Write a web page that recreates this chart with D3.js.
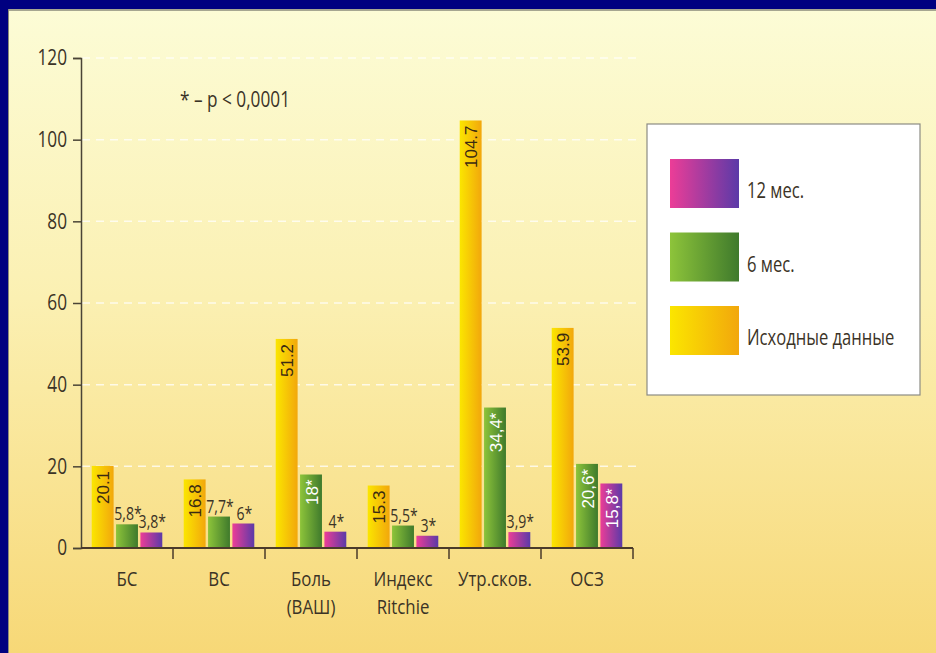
<!DOCTYPE html>
<html>
<head>
<meta charset="utf-8">
<script src="https://cdn.jsdelivr.net/npm/d3@7"></script>
<style>
  html, body { margin: 0; padding: 0; background: #000080; }
  svg { display: block; }
</style>
</head>
<body>
<svg id="chart" width="936" height="653"></svg>
<script>
// Categories along the x axis (multi-line labels split by "\n")
const categories = ["БС", "ВС", "Боль\n(ВАШ)", "Индекс\nRitchie", "Утр.сков.", "ОСЗ"];

// Series values (baseline, 6 months, 12 months)
const baseValues = [20.1, 16.8, 51.2, 15.3, 104.7, 53.9];
const m6Values   = [5.8, 7.7, 18, 5.5, 34.4, 20.6];
const m12Values  = [3.8, 6, 4, 3, 3.9, 15.8];

// Printed value labels
const baseLabels = ["20.1", "16.8", "51.2", "15.3", "104.7", "53.9"];
const m6Labels   = ["5,8*", "7,7*", "18*", "5,5*", "34,4*", "20,6*"];
const m12Labels  = ["3,8*", "6*", "4*", "3*", "3,9*", "15,8*"];

// Series names (legend order top to bottom)
const seriesNames = ["12 мес.", "6 мес.", "Исходные данные"];

// Y axis ticks
const yTicks = [0, 20, 40, 60, 80, 100, 120];

const sans = "'Open Sans', 'Noto Sans', sans-serif";
const textColor = "#3b3326";
const SX = 0.82; // horizontal squeeze for the condensed look of the captions

const svg = d3.select("#chart");
const defs = svg.append("defs");

// Page background: light cream fading to warm yellow
const bg = defs.append("linearGradient").attr("id", "bg")
  .attr("x1", 0).attr("y1", 0).attr("x2", 0).attr("y2", 1);
bg.append("stop").attr("offset", "0%").attr("stop-color", "#fcfcd6");
bg.append("stop").attr("offset", "45%").attr("stop-color", "#fbf0b2");
bg.append("stop").attr("offset", "100%").attr("stop-color", "#f7d877");

function hGrad(id, c1, c2) {
  const g = defs.append("linearGradient").attr("id", id)
    .attr("x1", 0).attr("y1", 0).attr("x2", 1).attr("y2", 0);
  g.append("stop").attr("offset", "0%").attr("stop-color", c1);
  g.append("stop").attr("offset", "100%").attr("stop-color", c2);
}
hGrad("gBase", "#fbe600", "#f2a70c");
hGrad("g6", "#8dc43a", "#3f7a2c");
hGrad("g12", "#ec3d97", "#5b3aa8");

const series = [
  { key: "base", values: baseValues, labels: baseLabels, fill: "url(#gBase)", inText: "#3a2a12" },
  { key: "m6", values: m6Values, labels: m6Labels, fill: "url(#g6)", inText: "#ffffff" },
  { key: "m12", values: m12Values, labels: m12Labels, fill: "url(#g12)", inText: "#ffffff" }
];

// Condensed caption: a text squeezed horizontally around its anchor point
function condensed(parent, px, py, str, size, anchor, sx) {
  const g = parent.append("g").attr("transform", `translate(${px},${py}) scale(${sx || SX},1)`);
  return g.append("text").attr("x", 0).attr("y", 0)
    .attr("text-anchor", anchor || "start")
    .attr("fill", textColor)
    .style("font-family", sans).style("font-size", size + "px")
    .text(str);
}

// Panel
svg.append("rect").attr("x", 8).attr("y", 9).attr("width", 928).attr("height", 644)
  .attr("fill", "url(#bg)");
svg.append("line").attr("x1", 8).attr("x2", 936).attr("y1", 10).attr("y2", 10)
  .attr("stroke", "#8a8a7a").attr("stroke-width", 1.5);
svg.append("line").attr("x1", 8.5).attr("x2", 8.5).attr("y1", 9).attr("y2", 653)
  .attr("stroke", "#8a8a7a").attr("stroke-width", 1);

// Scales
const y = d3.scaleLinear().domain([0, 120]).range([548, 58]);
const x = d3.scaleBand().domain(categories).range([81, 633]).paddingInner(0).paddingOuter(0);
const xs = d3.scaleBand().domain(series.map(s => s.key)).range([0, x.bandwidth()])
  .paddingInner(0.1).paddingOuter(0.44);

// Dashed gridlines
svg.append("g").selectAll("line").data(yTicks.filter(t => t > 0)).join("line")
  .attr("x1", 82).attr("x2", 642)
  .attr("y1", d => y(d)).attr("y2", d => y(d))
  .attr("stroke", "#ffffff").attr("stroke-opacity", 0.75)
  .attr("stroke-width", 1.5).attr("stroke-dasharray", "8,6");

// Y axis
const yAxis = svg.append("g").attr("transform", "translate(81,0)")
  .call(d3.axisLeft(y).tickValues(yTicks).tickSize(8).tickPadding(6));
yAxis.select(".domain").attr("stroke", "#4a4436").attr("stroke-width", 1.5);
yAxis.selectAll(".tick line").attr("stroke", "#4a4436").attr("stroke-width", 1.5);
yAxis.selectAll(".tick text")
  .attr("fill", textColor)
  .attr("x", -14 / SX)
  .attr("transform", `scale(${SX},1)`)
  .style("font-family", sans).style("font-size", "21px");

// Bars
const groups = svg.append("g").selectAll("g").data(categories).join("g")
  .attr("transform", d => `translate(${x(d)},0)`);

series.forEach(s => {
  groups.append("rect")
    .attr("x", xs(s.key))
    .attr("width", xs.bandwidth())
    .attr("y", (d, i) => y(s.values[i]))
    .attr("height", (d, i) => y(0) - y(s.values[i]))
    .attr("fill", s.fill);

  groups.each(function (d, i) {
    const g = d3.select(this);
    const v = s.values[i];
    const h = y(0) - y(v);
    const cx = xs(s.key) + xs.bandwidth() / 2;
    if (h > 55) {
      // tall bar: value reads bottom-to-top inside the bar
      g.append("text")
        .attr("transform", `translate(${cx + 1},${y(v) + 5}) rotate(-90)`)
        .attr("text-anchor", "end")
        .attr("dominant-baseline", "central")
        .attr("fill", s.inText)
        .style("font-family", "'Liberation Sans', Arial, sans-serif")
        .style("font-size", "17px")
        .text(s.labels[i]);
    } else {
      // short bar: value sits above the bar
      condensed(g, cx + 1, y(v) - 4, s.labels[i], 19, "middle", 0.74);
    }
  });
});

// X axis baseline and separators
svg.append("line").attr("x1", 81).attr("x2", 633).attr("y1", y(0)).attr("y2", y(0))
  .attr("stroke", "#4a3a2a").attr("stroke-width", 2);
svg.append("g").selectAll("line").data(categories).join("line")
  .attr("x1", d => x(d) + x.bandwidth()).attr("x2", d => x(d) + x.bandwidth())
  .attr("y1", y(0)).attr("y2", y(0) + 11)
  .attr("stroke", "#4a3a2a").attr("stroke-width", 1.5);

// Category labels, one text per line
const catLayer = svg.append("g");
categories.forEach(d => {
  d.split("\n").forEach((line, k) => {
    condensed(catLayer, x(d) + x.bandwidth() / 2, 586 + k * 27.5, line, 20.5, "middle");
  });
});

// Significance note
condensed(svg, 180, 107, "* – p < 0,0001", 21, "start");

// Legend
const legend = svg.append("g");
legend.append("rect").attr("x", 647).attr("y", 124).attr("width", 273).attr("height", 271)
  .attr("fill", "#ffffff").attr("stroke", "#8c8c84").attr("stroke-width", 1.2);
const legendFills = ["url(#g12)", "url(#g6)", "url(#gBase)"];
seriesNames.forEach((name, k) => {
  const top = 159 + k * 73.5;
  legend.append("rect").attr("x", 670).attr("y", top).attr("width", 69).attr("height", 49)
    .attr("fill", legendFills[k]);
  condensed(legend, 747, top + 39, name, 21, "start", 0.79);
});
</script>
</body>
</html>
